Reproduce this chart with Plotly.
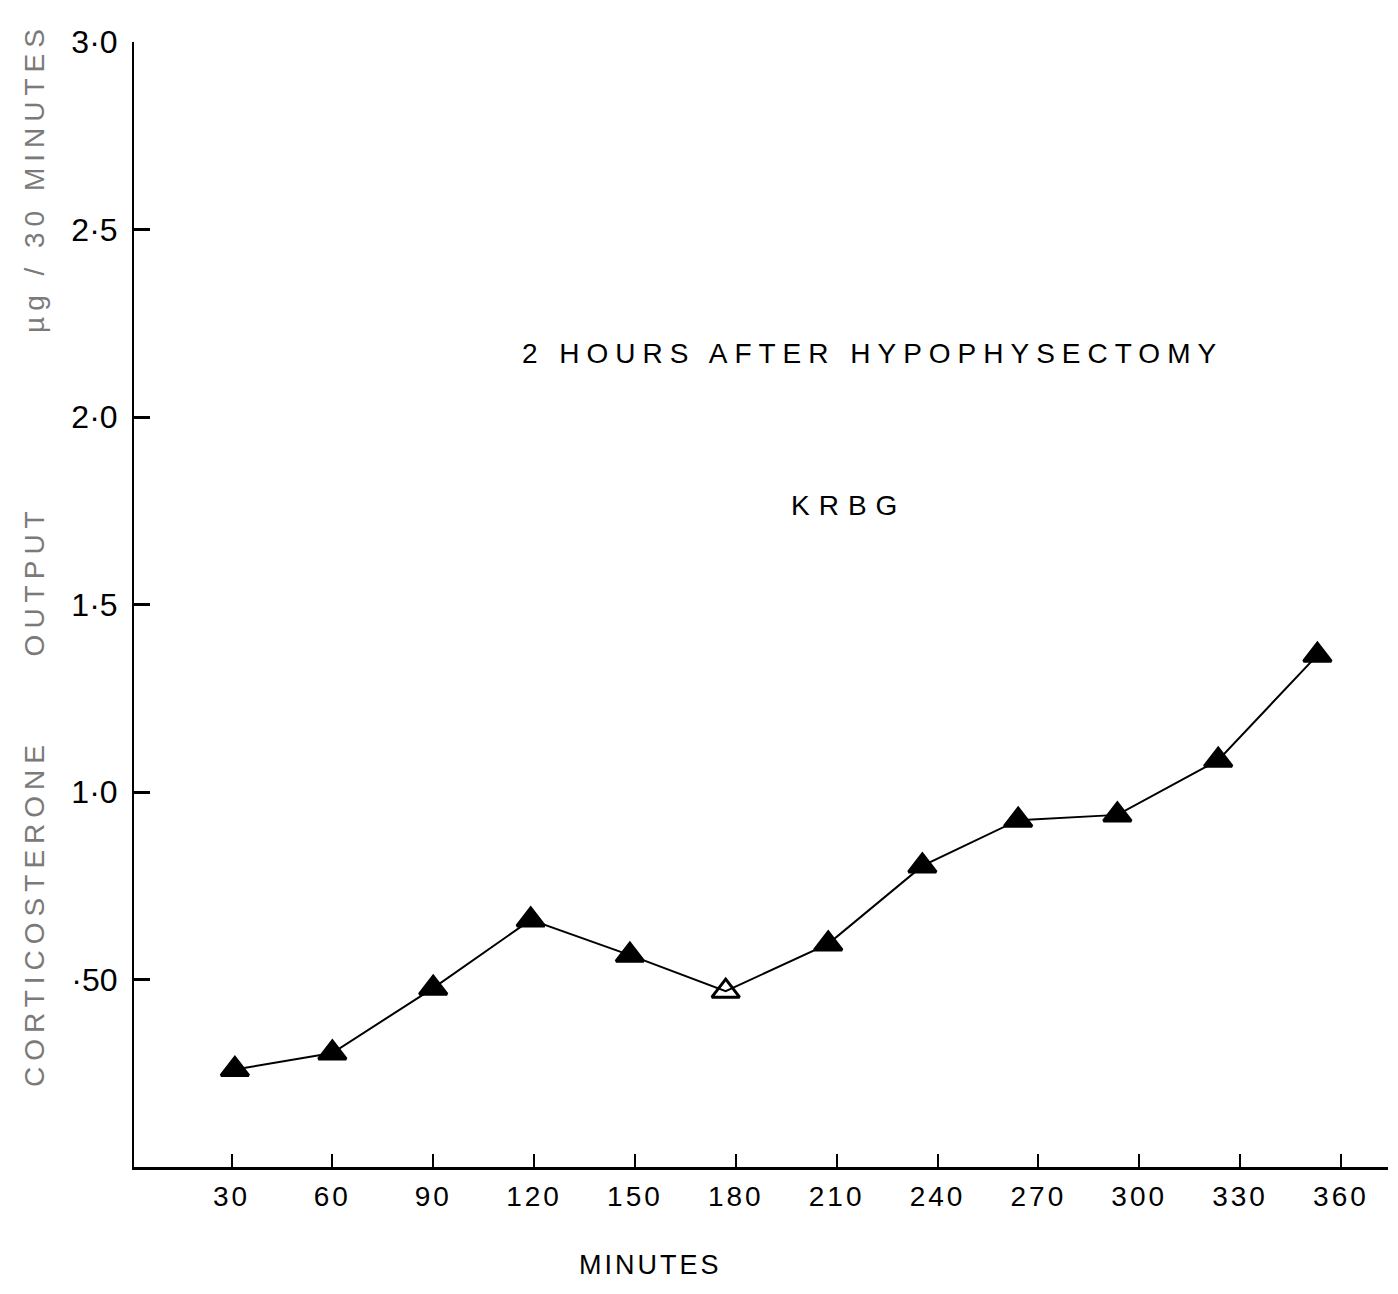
import plotly.graph_objects as go

# ---- data ----
minutes = [31, 60, 90, 119, 148.5, 177, 207.5, 235.5, 264, 293.5, 323.5, 353]
output = [0.26, 0.304, 0.477, 0.659, 0.565, 0.469, 0.595, 0.803, 0.925, 0.939, 1.085, 1.365]
open_point = [False, False, False, False, False, True, False, False, False, False, False, False]

x_tick_vals = [30, 60, 90, 120, 150, 180, 210, 240, 270, 300, 330, 360]
x_tick_text = ["30", "60", "90", "120", "150", "180", "210", "240", "270", "300", "330", "360"]
y_tick_vals = [0.5, 1.0, 1.5, 2.0, 2.5, 3.0]
y_tick_text = ["·50", "1·0", "1·5", "2·0", "2·5", "3·0"]

FONT = "Liberation Sans"

# plot-area pixel geometry (for annotation placement)
L, R, T, B = 134, 1388, 42, 1167
W, H = 1398, 1294


def px(xp):
    return (xp - L) / (R - L)


def py(yp):
    return (B - yp) / (B - T)


def spaced(t, s):
    return '<span style="letter-spacing:%dpx">%s</span>' % (s, t)


symbols = ["triangle-up-open" if o else "triangle-up" for o in open_point]

fig = go.Figure()
fig.add_trace(go.Scatter(
    x=minutes, y=output, mode="lines+markers",
    line=dict(color="black", width=2),
    marker=dict(symbol=symbols, size=24, color="black",
                line=dict(color="black", width=3)),
    showlegend=False, cliponaxis=False,
))

fig.update_layout(
    width=W, height=H,
    margin=dict(l=L, r=W - R, t=T, b=H - B),
    paper_bgcolor="white", plot_bgcolor="white",
    font=dict(family=FONT, color="black"),
    xaxis=dict(range=[1.0, 374.0], tickmode="array", tickvals=x_tick_vals,
               ticktext=[spaced(t, 3) for t in x_tick_text],
               ticks="inside", ticklen=13, tickwidth=2,
               tickcolor="black", showline=True, linecolor="black", linewidth=3,
               showgrid=False, zeroline=False, ticklabelstandoff=2,
               tickfont=dict(size=28, family=FONT, color="black")),
    yaxis=dict(range=[0, 3.0], tickmode="array", tickvals=y_tick_vals,
               ticktext=y_tick_text, ticks="inside", ticklen=16, tickwidth=2.5,
               tickcolor="black", showline=True, linecolor="black", linewidth=2,
               showgrid=False, zeroline=False, ticklabelstandoff=8,
               tickfont=dict(size=32, family=FONT, color="black")),
)

ann = [
    dict(text=spaced("2 HOURS AFTER HYPOPHYSECTOMY", 7),
         x=px(872), y=py(353), font=dict(size=28)),
    dict(text=spaced("KRBG", 9),
         x=px(848), y=py(505), font=dict(size=28)),
    dict(text=spaced("MINUTES", 3),
         x=px(650), y=py(1265), font=dict(size=27)),
    dict(text=spaced("CORTICOSTERONE      OUTPUT", 6),
         x=px(34), y=py(796), textangle=-90, font=dict(size=28, color="#7a7a7a")),
    dict(text=spaced("µg / 30 MINUTES", 6),
         x=px(34), y=py(178), textangle=-90, font=dict(size=28, color="#7a7a7a")),
]
for a in ann:
    fig.add_annotation(xref="paper", yref="paper", showarrow=False,
                       xanchor="center", yanchor="middle", **a)

fig.write_html("out.html")
